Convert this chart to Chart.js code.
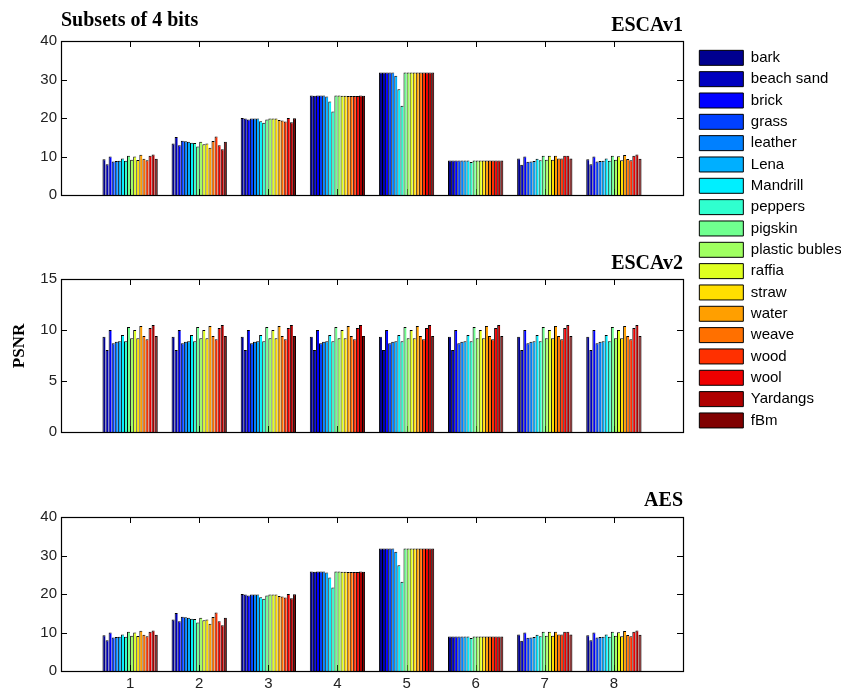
<!DOCTYPE html>
<html>
<head>
<meta charset="utf-8">
<script src="https://cdn.jsdelivr.net/npm/chart.js@4"></script>
<style>
html, body { margin: 0; padding: 0; background: #fff; overflow: hidden; width: 841px; height: 688px; }
canvas { position: absolute; }
</style>
</head>
<body>
<canvas id="c1" width="841" height="210" style="left:0;top:0"></canvas>
<canvas id="c2" width="841" height="215" style="left:0;top:230px"></canvas>
<canvas id="c3" width="841" height="220" style="left:0;top:468px"></canvas>
<canvas id="cy" width="40" height="92" style="left:0;top:300px"></canvas>
<canvas id="cl" width="148" height="820" style="left:693px;top:44px"></canvas>
<script>
// ---------- data ----------
const subsets = [1, 2, 3, 4, 5, 6, 7, 8];
const textures = ['bark', 'beach sand', 'brick', 'grass', 'leather', 'Lena', 'Mandrill', 'peppers', 'pigskin',
  'plastic bubles', 'raffia', 'straw', 'water', 'weave', 'wood', 'wool', 'Yardangs', 'fBm'];
const textureColors = ['#00008f', '#0000bf', '#0000ff', '#0040ff', '#0080ff', '#00afff', '#00efff', '#30ffcf',
  '#70ff8f', '#9fff60', '#dfff20', '#ffdf00', '#ff9f00', '#ff7000', '#ff3000', '#ef0000', '#af0000', '#800000'];

// rows = subsets 1..8, columns = textures (same order as above)
const escav1 = [
  [9.3, 8.0, 10.0, 8.7, 8.85, 8.9, 9.45, 8.9, 10.2, 9.15, 10.0, 9.1, 10.45, 9.4, 9.05, 10.2, 10.5, 9.4],
  [13.35, 15.05, 12.95, 14.1, 13.95, 13.85, 13.55, 13.5, 12.6, 13.8, 13.2, 13.35, 12.25, 14.05, 15.2, 12.9, 11.9, 13.85],
  [20.0, 19.85, 19.6, 19.85, 19.9, 19.9, 19.15, 18.75, 19.6, 19.85, 19.9, 19.9, 19.45, 19.35, 19.1, 20.0, 18.9, 19.95],
  [25.85, 25.8, 25.85, 25.85, 25.85, 25.6, 24.3, 21.7, 25.85, 25.85, 25.8, 25.8, 25.7, 25.7, 25.7, 25.7, 25.85, 25.8],
  [31.85, 31.85, 31.85, 31.85, 31.85, 31.0, 27.5, 23.2, 31.85, 31.85, 31.85, 31.85, 31.85, 31.85, 31.85, 31.85, 31.85, 31.85],
  [8.95, 8.95, 8.95, 8.95, 8.95, 8.95, 8.95, 8.6, 8.95, 8.95, 8.95, 8.95, 8.95, 8.95, 8.95, 8.95, 8.95, 8.95],
  [9.45, 7.85, 10.0, 8.65, 8.7, 8.8, 9.4, 9.0, 10.2, 9.15, 10.2, 9.15, 10.2, 9.45, 9.45, 10.2, 10.2, 9.45],
  [9.3, 8.0, 10.0, 8.7, 8.85, 8.9, 9.45, 8.9, 10.2, 9.15, 10.05, 9.05, 10.4, 9.35, 9.05, 10.2, 10.5, 9.4]
];
const escav2 = [
  [9.35, 8.05, 10.0, 8.7, 8.85, 8.9, 9.5, 8.9, 10.3, 9.2, 10.0, 9.2, 10.4, 9.4, 9.1, 10.2, 10.5, 9.4],
  [9.35, 8.05, 10.0, 8.7, 8.85, 8.9, 9.5, 8.9, 10.3, 9.2, 10.0, 9.2, 10.4, 9.4, 9.1, 10.2, 10.5, 9.4],
  [9.35, 8.05, 10.0, 8.7, 8.85, 8.9, 9.5, 8.9, 10.3, 9.2, 10.0, 9.2, 10.4, 9.4, 9.1, 10.2, 10.5, 9.4],
  [9.35, 8.05, 10.0, 8.7, 8.85, 8.9, 9.5, 8.9, 10.3, 9.2, 10.0, 9.2, 10.4, 9.4, 9.1, 10.2, 10.5, 9.4],
  [9.35, 8.05, 10.0, 8.7, 8.85, 8.9, 9.5, 8.9, 10.3, 9.2, 10.0, 9.2, 10.4, 9.4, 9.1, 10.2, 10.5, 9.4],
  [9.35, 8.05, 10.0, 8.7, 8.85, 8.9, 9.5, 8.9, 10.3, 9.2, 10.0, 9.2, 10.4, 9.4, 9.1, 10.2, 10.5, 9.4],
  [9.35, 8.05, 10.0, 8.7, 8.85, 8.9, 9.5, 8.9, 10.3, 9.2, 10.0, 9.2, 10.4, 9.4, 9.1, 10.2, 10.5, 9.4],
  [9.35, 8.05, 10.0, 8.7, 8.85, 8.9, 9.5, 8.9, 10.3, 9.2, 10.0, 9.2, 10.4, 9.4, 9.1, 10.2, 10.5, 9.4]
];
const aes = [
  [9.3, 8.0, 10.0, 8.7, 8.85, 8.9, 9.45, 8.9, 10.2, 9.15, 10.0, 9.1, 10.45, 9.4, 9.05, 10.2, 10.5, 9.4],
  [13.35, 15.05, 12.95, 14.1, 13.95, 13.85, 13.55, 13.5, 12.6, 13.8, 13.2, 13.35, 12.25, 14.05, 15.2, 12.9, 11.9, 13.85],
  [20.0, 19.85, 19.6, 19.85, 19.9, 19.9, 19.15, 18.75, 19.6, 19.85, 19.9, 19.9, 19.45, 19.35, 19.1, 20.0, 18.9, 19.95],
  [25.85, 25.8, 25.85, 25.85, 25.85, 25.6, 24.3, 21.7, 25.85, 25.85, 25.8, 25.8, 25.7, 25.7, 25.7, 25.7, 25.85, 25.8],
  [31.85, 31.85, 31.85, 31.85, 31.85, 31.0, 27.5, 23.2, 31.85, 31.85, 31.85, 31.85, 31.85, 31.85, 31.85, 31.85, 31.85, 31.85],
  [8.95, 8.95, 8.95, 8.95, 8.95, 8.95, 8.95, 8.6, 8.95, 8.95, 8.95, 8.95, 8.95, 8.95, 8.95, 8.95, 8.95, 8.95],
  [9.45, 7.85, 10.0, 8.65, 8.7, 8.8, 9.4, 9.0, 10.2, 9.15, 10.2, 9.15, 10.2, 9.45, 9.45, 10.2, 10.2, 9.45],
  [9.3, 8.0, 10.0, 8.7, 8.85, 8.9, 9.45, 8.9, 10.2, 9.15, 10.05, 9.05, 10.4, 9.35, 9.05, 10.2, 10.5, 9.4]
];
const ticks40 = [0, 10, 20, 30, 40];
const ticks15 = [0, 5, 10, 15];

// ---------- helpers ----------
const SANS = 'Liberation Sans';
const SERIF = 'Liberation Serif';
Chart.defaults.font.family = SANS;

function makeDatasets(rows) {
  return textures.map((name, k) => ({
    label: name,
    data: subsets.map((s, g) => ({ x: s, y: rows[g][k] })),
    backgroundColor: textureColors[k],
    borderColor: '#000',
    borderWidth: { left: 1, top: 1, right: k === textures.length - 1 ? 1 : 0, bottom: 0 }
  }));
}

const framePlugin = {
  id: 'matlabFrame',
  beforeDatasetsDraw(chart) {
    const { ctx, chartArea: a, scales } = chart;
    const L = 6;
    ctx.save();
    ctx.strokeStyle = '#000';
    ctx.lineWidth = 1;
    ctx.beginPath();
    scales.x.ticks.forEach(t => {
      const px = Math.round(scales.x.getPixelForValue(t.value)) + 0.5;
      ctx.moveTo(px, a.top); ctx.lineTo(px, a.top + L);
      ctx.moveTo(px, a.bottom); ctx.lineTo(px, a.bottom - L);
    });
    scales.y.ticks.forEach(t => {
      if (t.value <= scales.y.min || t.value >= scales.y.max) return;
      const py = Math.round(scales.y.getPixelForValue(t.value)) + 0.5;
      ctx.moveTo(a.left, py); ctx.lineTo(a.left + L, py);
      ctx.moveTo(a.right, py); ctx.lineTo(a.right - L, py);
    });
    ctx.stroke();
    ctx.restore();
  },
  afterDatasetsDraw(chart) {
    const { ctx, chartArea: a } = chart;
    ctx.save();
    ctx.strokeStyle = '#000';
    ctx.lineWidth = 1.2;
    ctx.strokeRect(a.left + 0.5, a.top + 0.5, a.right - a.left, a.bottom - a.top);
    ctx.restore();
  }
};

function xScale(show) {
  return {
    type: 'linear', min: 0, max: 9, offset: false,
    afterBuildTicks: s => { s.ticks = subsets.map(v => ({ value: v })); },
    afterFit: s => { s.height = show ? 17 : 0; },
    grid: { display: false, drawTicks: false },
    border: { display: false },
    ticks: { display: show, padding: 4, color: '#222', autoSkip: false, maxRotation: 0,
      font: { family: SANS, size: 15 }, callback: v => String(v) }
  };
}
function yScale(tk) {
  return {
    type: 'linear', min: tk[0], max: tk[tk.length - 1],
    afterBuildTicks: s => { s.ticks = tk.map(v => ({ value: v })); },
    afterFit: s => { s.width = 61; },
    grid: { display: false, drawTicks: false },
    border: { display: false },
    ticks: { padding: 4, color: '#222', font: { family: SANS, size: 15 } }
  };
}
const titleFont = { family: SERIF, size: 20, weight: 'bold' };

function panel(canvasId, rows, tk, titleCfg, subtitleCfg, showX, padBottom) {
  return new Chart(document.getElementById(canvasId), {
    type: 'bar',
    data: { datasets: makeDatasets(rows) },
    options: {
      responsive: false,
      animation: false,
      layout: { padding: { left: 0, right: 158, top: 0, bottom: padBottom } },
      datasets: { bar: { categoryPercentage: 0.8, barPercentage: 1 } },
      plugins: {
        legend: { display: false },
        tooltip: { enabled: false },
        title: Object.assign({ display: true, fullSize: false, color: '#000', font: titleFont }, titleCfg),
        subtitle: Object.assign({ display: false, fullSize: false, color: '#000', font: titleFont }, subtitleCfg || {})
      },
      scales: { x: xScale(showX), y: yScale(tk) }
    },
    plugins: [framePlugin]
  });
}

panel('c1', escav1, ticks40,
  { text: 'Subsets of 4 bits', align: 'start', padding: { top: 9, bottom: -20 } },
  { display: true, text: 'ESCAv1', align: 'end', padding: { top: 0.5, bottom: 3.5 } },
  false, 15);
panel('c2', escav2, ticks15,
  { text: 'ESCAv2', align: 'end', padding: { top: 21.5, bottom: 3.5 } }, null, false, 12);
panel('c3', aes, ticks40,
  { text: 'AES', align: 'end', padding: { top: 21, bottom: 4 } }, null, true, 0);

// y-axis label shared by the three panels
new Chart(document.getElementById('cy'), {
  type: 'bar',
  data: { datasets: [] },
  options: {
    responsive: false, animation: false,
    layout: { padding: 0 },
    plugins: { legend: { display: false }, tooltip: { enabled: false } },
    scales: {
      x: { display: false },
      y: { display: true, grid: { display: false, drawTicks: false }, border: { display: false },
        ticks: { display: false },
        title: { display: true, text: 'PSNR', color: '#000', font: { family: SERIF, size: 17, weight: 'bold' },
          padding: { top: 9, bottom: 0 } } }
    }
  }
});

// legend
new Chart(document.getElementById('cl'), {
  type: 'bar',
  data: { datasets: textures.map((t, k) => ({ label: t, data: [], backgroundColor: textureColors[k], borderColor: '#000', borderWidth: 1 })) },
  options: {
    responsive: false, animation: false,
    layout: { padding: 0 },
    scales: { x: { display: false }, y: { display: false } },
    plugins: {
      tooltip: { enabled: false },
      legend: { display: true, position: 'top', align: 'start',
        labels: { boxWidth: 44, boxHeight: 15, padding: 6.33, color: '#000', font: { family: SANS, size: 15 } } }
    }
  }
});
</script>
</body>
</html>
